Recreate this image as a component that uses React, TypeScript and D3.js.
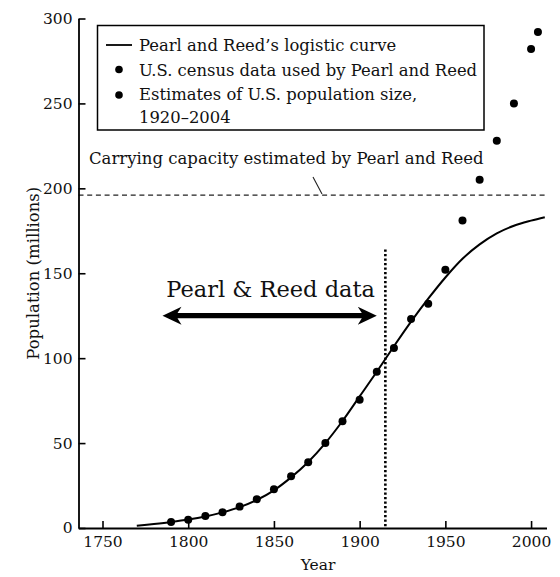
import React, { useEffect, useRef } from "react";
import * as d3 from "d3";

// ---- data ----
const censusYears = [1790, 1800, 1810, 1820, 1830, 1840, 1850, 1860, 1870, 1880, 1890, 1900, 1910];
const censusPop = [3.5, 4.8, 7.0, 9.3, 12.6, 17.0, 22.8, 30.5, 38.7, 50.0, 62.8, 75.5, 92.0];

const estimateYears = [1920, 1930, 1940, 1950, 1960, 1970, 1980, 1990, 2000, 2004];
const estimatePop = [106, 123, 132, 152, 181, 205, 228, 250, 282, 292];

const curveYears = [1770, 1780, 1790, 1800, 1810, 1820, 1830, 1840, 1850, 1860, 1870, 1880, 1890, 1900, 1910, 1920, 1930, 1940, 1950, 1960, 1970, 1980, 1990, 2000, 2008];
const curvePop = [1.3, 2.4, 3.6, 5.0, 6.8, 9.2, 12.3, 16.5, 22.2, 29.8, 38.9, 50.0, 63.0, 77.5, 92.0, 107.0, 121.5, 135.0, 147.5, 158.5, 167.0, 173.5, 178.0, 181.0, 183.0];

const xTicks = [1750, 1800, 1850, 1900, 1950, 2000];
const yTicks = [0, 50, 100, 150, 200, 250, 300];

const carryingCapacity = 196;
const dividerYear = 1915;
const dividerTop = 164;
const arrowYears = [1785, 1910];
const arrowValue = 125;
const arrowLabel = "Pearl & Reed data";
const carryingLabel = "Carrying capacity estimated by Pearl and Reed";
const legendLabels = [
  "Pearl and Reed\u2019s logistic curve",
  "U.S. census data used by Pearl and Reed",
  "Estimates of U.S. population size,",
  "1920\u20132004",
];

const FONT = "'DejaVu Serif', serif";

export default function App() {
  const xAxisRef = useRef<SVGGElement>(null);
  const yAxisRef = useRef<SVGGElement>(null);

  const x = d3.scaleLinear().domain([1736, 2009]).range([78.5, 546.5]);
  const y = d3.scaleLinear().domain([0, 300]).range([528, 18.5]);

  useEffect(() => {
    const gx = d3.select(xAxisRef.current);
    gx.call(
      d3.axisBottom(x).tickValues(xTicks).tickFormat(d3.format("d")).tickSizeInner(-7).tickSizeOuter(0).tickPadding(8) as any
    );
    gx.select(".domain").attr("stroke", "#000").attr("stroke-width", 1.8);
    gx.selectAll(".tick line").attr("stroke", "#000").attr("stroke-width", 1.6);
    gx.selectAll(".tick text").attr("font-family", FONT).attr("font-size", 15.5).attr("fill", "#111");

    const gy = d3.select(yAxisRef.current);
    gy.call(
      d3.axisLeft(y).tickValues(yTicks).tickFormat(d3.format("d")).tickSizeInner(-7).tickSizeOuter(0).tickPadding(6) as any
    );
    gy.select(".domain").attr("stroke", "#000").attr("stroke-width", 1.8);
    gy.selectAll(".tick line").attr("stroke", "#000").attr("stroke-width", 1.6);
    gy.selectAll(".tick text").attr("font-family", FONT).attr("font-size", 15.5).attr("fill", "#111");
  }, []);

  const line = d3
    .line<number>()
    .x((_, i) => x(curveYears[i]))
    .y((d) => y(d))
    .curve(d3.curveCatmullRom.alpha(0.5));

  const ax0 = x(arrowYears[0]);
  const ax1 = x(arrowYears[1]);
  const ay = y(arrowValue);
  const hl = 19; // head length
  const hh = 9; // head half height
  const st = 2.6; // shaft half thickness
  const arrowPath = [
    `M${ax0},${ay}`,
    `L${ax0 + hl},${ay - hh}`,
    `L${ax0 + hl - 4},${ay - st}`,
    `L${ax1 - hl + 4},${ay - st}`,
    `L${ax1 - hl},${ay - hh}`,
    `L${ax1},${ay}`,
    `L${ax1 - hl},${ay + hh}`,
    `L${ax1 - hl + 4},${ay + st}`,
    `L${ax0 + hl - 4},${ay + st}`,
    `L${ax0 + hl},${ay + hh}`,
    "Z",
  ].join("");

  return (
    <svg width={560} height={577} style={{ display: "block", position: "absolute", left: 0, top: 0, background: "#fff" }}>
      {/* carrying capacity */}
      <line
        x1={x(1736)}
        x2={548}
        y1={y(carryingCapacity)}
        y2={y(carryingCapacity)}
        stroke="#222"
        strokeWidth={1.3}
        strokeDasharray="5 3.7"
      />
      <text x={89} y={164} fontFamily={FONT} fontSize={16.5} fill="#111">
        {carryingLabel}
      </text>
      <line x1={313} y1={177} x2={322} y2={194} stroke="#222" strokeWidth={1.1} />

      {/* divider */}
      <line
        x1={x(dividerYear)}
        x2={x(dividerYear)}
        y1={y(dividerTop)}
        y2={y(0)}
        stroke="#000"
        strokeWidth={2.6}
        strokeDasharray="2.2 2.3"
      />

      {/* arrow */}
      <path d={arrowPath} fill="#000" />
      <text x={(ax0 + ax1) / 2 + 1} y={297} textAnchor="middle" fontFamily={FONT} fontSize={22.5} fill="#111">
        {arrowLabel}
      </text>

      {/* logistic curve */}
      <path d={line(curvePop) || ""} fill="none" stroke="#000" strokeWidth={2} />

      {/* points */}
      {censusYears.map((yr, i) => (
        <circle key={"c" + yr} cx={x(yr)} cy={y(censusPop[i])} r={4} fill="#000" />
      ))}
      {estimateYears.map((yr, i) => (
        <circle key={"e" + yr} cx={x(yr)} cy={y(estimatePop[i])} r={4} fill="#000" />
      ))}

      {/* axes */}
      <g ref={xAxisRef} transform={`translate(0,${y(0)})`} />
      <g ref={yAxisRef} transform={`translate(${x(1736)},0)`} />
      <text x={318} y={570} textAnchor="middle" fontFamily={FONT} fontSize={15.5} fill="#111">
        Year
      </text>
      <text
        transform={`translate(33,${(y(0) + y(300)) / 2}) rotate(-90)`}
        textAnchor="middle"
        dominantBaseline="central"
        fontFamily={FONT}
        fontSize={16.5}
        fill="#111"
      >
        Population (millions)
      </text>

      {/* legend */}
      <rect x={97.5} y={25.5} width={386.5} height={104.5} fill="#fff" stroke="#000" strokeWidth={1.5} />
      <line x1={106} x2={132} y1={45} y2={45} stroke="#000" strokeWidth={1.8} />
      <circle cx={119} cy={69.5} r={3.8} fill="#000" />
      <circle cx={119} cy={95} r={3.8} fill="#000" />
      {legendLabels.map((t, i) => (
        <text
          key={t}
          x={139}
          y={[45, 70, 94.5, 117][i]}
          dominantBaseline="central"
          fontFamily={FONT}
          fontSize={16.4}
          fill="#111"
        >
          {t}
        </text>
      ))}
    </svg>
  );
}
